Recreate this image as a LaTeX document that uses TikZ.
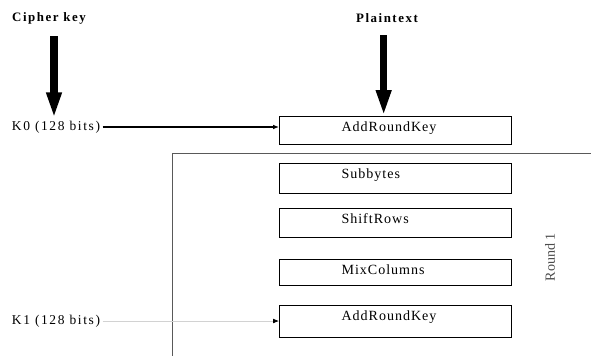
\documentclass[tikz,border=0pt]{standalone}
\usepackage{fontspec}
\setmainfont{Liberation Serif}
\newfontfamily\spaced[LetterSpace=12]{Liberation Serif}
\newfontfamily\boxfont[LetterSpace=7]{Liberation Serif}
\usetikzlibrary{arrows.meta}

\begin{document}
\begin{tikzpicture}[x=0.03cm,y=-0.03cm,
    txt/.style={font=\spaced\fontsize{11.5}{13}\selectfont, inner sep=2pt},
    box/.style={draw, line width=0.9pt, anchor=north west, inner xsep=1.86cm, inner ysep=0pt,
                text width=3.24cm, align=left, text height=0.45cm, font=\boxfont\fontsize{12}{14}\selectfont},
    heavy/.style={line width=6.5pt, -{Triangle[length=0.78cm,width=0.42cm]}},
    feed/.style={line width=1.2pt, -{Latex[length=5pt,width=4pt]}}]
        \useasboundingbox (0,0) rectangle (591,356);
        % inputs
        \node[txt, font=\spaced\bfseries\fontsize{11}{13}\selectfont] (cipher) at (49,18) {Cipher key};
        \node[txt, font=\spaced\bfseries\fontsize{11}{13}\selectfont] (plain) at (387,18) {Plaintext};
        \node[txt] (k0) at (56,127) {K0 (128 bits)};
        \node[txt] (k1) at (56,321) {K1 (128 bits)};
        % round steps
        \node[box, text depth=0.39cm] (ark0) at (279,116) {AddRoundKey};
        \node[box, text depth=0.45cm] (sub) at (279,163) {Subbytes};
        \node[box, text depth=0.42cm] (shift) at (279,208) {ShiftRows};
        \node[box, text depth=0.33cm] (mix) at (279,259) {MixColumns};
        \node[box, text depth=0.51cm] (ark1) at (279,305) {AddRoundKey};
        \node[rotate=90, text=gray!60!black, font=\fontsize{12}{14}\selectfont] (round) at (550,257) {Round 1};
        % round frame
        \coordinate (corner) at (172,153);
        \draw[gray!70!black, line width=0.8pt] (591,153) -- (corner) -- (172,356);
        % arrows
        \draw[heavy, shorten <=0.3cm] ([xshift=0.15cm]cipher.south) -- ([xshift=0.15cm]cipher.south |- k0.north);
        \draw[heavy, shorten <=0.3cm] ([xshift=-0.1cm]plain.south) -- ([xshift=-0.1cm]plain.south |- ark0.north);
        \draw[feed] (k0) -- (k0 -| ark0.west);
        \draw[gray!35, line width=0.6pt, -{Latex[black,length=5pt,width=4pt]}] (k1) -- (k1 -| ark1.west);
      \end{tikzpicture}
\end{document}
